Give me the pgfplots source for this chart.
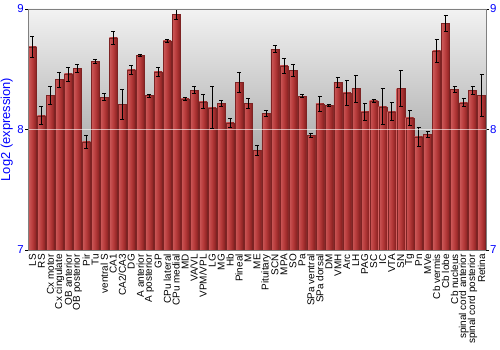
\documentclass[border=0pt]{standalone}
\usepackage{pgfplots}
\pgfplotsset{compat=1.18}
\usepackage{pgfplotstable}
\usepackage{fontspec}
\setmainfont{Liberation Sans}
\definecolor{bgtop}{RGB}{242,242,242}
\definecolor{bgbot}{RGB}{125,125,125}
\definecolor{barL}{RGB}{205,90,90}
\definecolor{barM}{RGB}{182,58,58}
\definecolor{barR}{RGB}{135,32,32}
\definecolor{barEdge}{RGB}{125,35,35}
\pgfplotstableread[col sep=comma]{
x,y,err
0,8.686,0.086
1,8.114,0.074
2,8.283,0.078
3,8.414,0.063
4,8.461,0.058
5,8.506,0.033
6,7.897,0.057
7,8.564,0.015
8,8.269,0.028
9,8.761,0.053
10,8.208,0.124
11,8.494,0.040
12,8.617,0.010
13,8.281,0.012
14,8.478,0.040
15,8.736,0.012
16,8.956,0.043
17,8.256,0.011
18,8.325,0.029
19,8.231,0.057
20,8.181,0.174
21,8.219,0.025
22,8.056,0.036
23,8.389,0.082
24,8.217,0.044
25,7.828,0.040
26,8.136,0.024
27,8.667,0.031
28,8.528,0.061
29,8.489,0.049
30,8.278,0.010
31,7.950,0.018
32,8.214,0.061
33,8.200,0.008
34,8.392,0.043
35,8.303,0.106
36,8.339,0.111
37,8.147,0.072
38,8.239,0.011
39,8.189,0.150
40,8.147,0.074
41,8.342,0.147
42,8.097,0.061
43,7.939,0.079
44,7.958,0.026
45,8.653,0.097
46,8.881,0.065
47,8.333,0.028
48,8.222,0.033
49,8.325,0.036
50,8.283,0.176
}\datatable
\begin{document}
\begin{tikzpicture}
\useasboundingbox (-28bp,-100bp) rectangle (472bp,250bp);
\begin{axis}[
  scale only axis,
  width=458bp, height=241bp,
  xmin=-0.5, xmax=50.5,
  ymin=7, ymax=9,
  ytick={7,8,9},
  xtick={0,...,50},
  xticklabels={LS,RS,Cx motor,Cx cingulate,OB anterior,OB posterior,Pir,Tu,ventral S,CA1,CA2/CA3,DG,A anterior,A posterior,GP,CPu lateral,CPu medial,MD,VA/VL,VPM/VPL,LG,MG,Hb,Pineal,M,ME,Pituitary,SCN,MPA,SO,Pa,SPa ventral,SPa dorsal,DM,VMH,Arc,LH,PAG,SC,IC,VTA,SN,Tg,Pn,MVe,Cb vermis,Cb lobe,Cb nucleus,spinal cord anterior,spinal cord posterior,Retina},
  xticklabel style={rotate=90, anchor=east, font=\fontsize{10}{10}\selectfont, inner sep=1bp},
  xtick style={draw=none},
  yticklabel style={font=\fontsize{11.5}{12}\selectfont, text=blue, inner sep=1bp},
  ytick style={black},
  tick align=outside,
  major tick length=3bp,
  ylabel={Log2 (expression)},
  ylabel style={font=\fontsize{13}{13}\selectfont, text=blue},
  axis line style={gray},
  axis background/.style={top color=bgtop, bottom color=bgbot},
  ymajorgrids,
  grid style={white, line width=1bp, opacity=0.6},
  axis on top,
  unbounded coords=discard,
  /pgf/number format/assume math mode=true,
]
\pgfplotsinvokeforeach{0,...,50}{
\addplot[ybar, bar width=8bp, bar shift=0pt, draw=barEdge, line width=0.3bp,
  left color=barL, right color=barR, middle color=barM,
  x filter/.expression={abs(x-#1)<0.1 ? x : nan},
  error bars/.cd, y dir=both, y explicit,
  error bar style={black, line width=0.8bp},
  error mark options={rotate=90, black, mark size=2bp, line width=0.8bp}]
  table[x=x, y=y, y error=err] {\datatable};
}
\end{axis}
\begin{axis}[
  scale only axis,
  width=458bp, height=241bp,
  xmin=-0.5, xmax=50.5,
  ymin=7, ymax=9,
  ytick={7,8,9},
  axis y line*=right,
  axis x line=none,
  yticklabel style={font=\fontsize{11.5}{12}\selectfont, text=blue, inner sep=1bp},
  ytick style={black},
  tick align=outside,
  major tick length=3bp,
  axis line style={gray},
  /pgf/number format/assume math mode=true,
]
\end{axis}
\end{tikzpicture}
\end{document}
